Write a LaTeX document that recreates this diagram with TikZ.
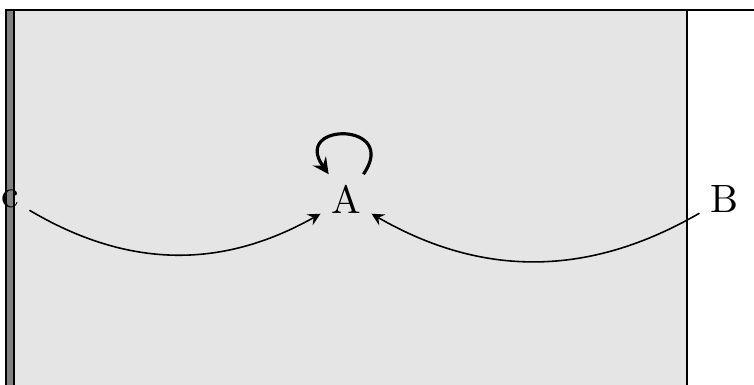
\documentclass[tikz,border=0pt]{standalone}
\begin{document}
\begin{tikzpicture}[x=0.2532pt,y=-0.2532pt,>=stealth,
  frame/.style={line width=0.55pt},
  lbl/.style={inner sep=2.5pt},
  link/.style={->},
  selfloop/.style={->,thick}]
\useasboundingbox (0,0) rectangle (754,384);
\fill[black!10] (14,10) rectangle (687,390);
\filldraw[fill=black!50,draw=black,line width=0.5pt] (6,10) rectangle (14,390);
\draw[frame] (5,10) -- (754,10);
\draw[frame] (687,10) -- (687,390);
\node[lbl] (A) at (346,199) {A};
\node[lbl] (c) at (10,199) {c};
\node[lbl] (B) at (724,199) {B};
\draw[link] (c) to[bend right=30] (A);
\draw[link] (B) to[bend left=30] (A);
\draw[selfloop] (A) to[out=55,in=125,distance=5.7mm] (A);
\end{tikzpicture}
\end{document}
